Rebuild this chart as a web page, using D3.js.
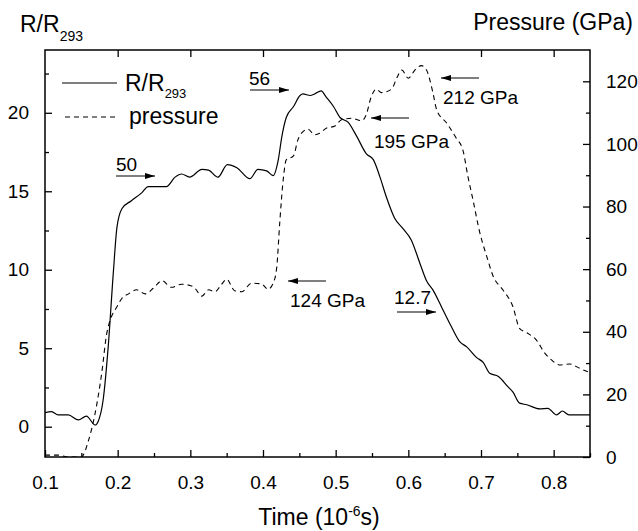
<!DOCTYPE html>
<html><head><meta charset="utf-8">
<script src="https://cdn.jsdelivr.net/npm/d3@7"></script>
<style>
html,body{margin:0;padding:0;background:#fff;}
text{font-family:"Liberation Sans",Arial,Helvetica,sans-serif;fill:#000;}
</style></head><body>
<svg id="chart" width="638" height="531"></svg>
<script>
// ---- data (time in 10^-6 s) ----
const rTime = [0.100,0.109,0.118,0.132,0.146,0.157,0.169,0.173,0.180,0.187,0.194,0.199,0.206,0.219,0.233,0.242,0.267,0.279,0.288,0.299,0.316,0.325,0.338,0.351,0.364,0.382,0.393,0.405,0.414,0.421,0.426,0.432,0.442,0.451,0.455,0.465,0.471,0.480,0.487,0.497,0.506,0.517,0.529,0.542,0.552,0.561,0.570,0.581,0.593,0.604,0.616,0.625,0.634,0.646,0.659,0.671,0.680,0.694,0.703,0.712,0.724,0.737,0.744,0.753,0.763,0.781,0.792,0.804,0.812,0.821,0.850];
const rValue = [0.89,0.96,0.75,0.75,0.43,0.68,0.11,0.32,1.7,5.1,9.8,12.7,13.9,14.4,14.9,15.3,15.3,15.9,16.1,15.9,16.4,16.35,15.9,16.7,16.5,15.8,16.4,16.3,16.0,17.0,18.5,19.7,20.4,21.1,21.2,21.1,21.2,21.4,21.0,20.4,19.7,19.4,18.5,17.4,17.0,15.9,14.6,13.3,12.6,11.9,10.4,9.3,8.7,7.6,6.4,5.4,5.1,4.4,4.1,3.4,3.2,2.55,2.2,1.5,1.4,1.13,1.17,0.75,1.0,0.75,0.75];
const pTime = [0.100,0.118,0.132,0.150,0.160,0.169,0.178,0.185,0.189,0.199,0.206,0.215,0.226,0.238,0.249,0.261,0.274,0.288,0.304,0.316,0.325,0.334,0.341,0.350,0.361,0.371,0.384,0.398,0.407,0.414,0.419,0.423,0.428,0.432,0.442,0.448,0.455,0.462,0.471,0.478,0.487,0.499,0.508,0.522,0.536,0.542,0.549,0.556,0.563,0.577,0.584,0.591,0.600,0.609,0.618,0.625,0.634,0.639,0.653,0.666,0.675,0.682,0.689,0.698,0.708,0.717,0.730,0.744,0.753,0.763,0.776,0.788,0.797,0.808,0.822,0.836,0.850];
const pValue = [0.6,0.6,0,0,5.4,14,26.7,39.5,43.2,48,50.7,52.1,53.4,52.1,53.9,56.3,54.2,55.2,54.4,51.4,53.4,52.8,54.5,56.8,53.1,52.8,55.5,55.3,53.6,55.5,60.8,74.7,89,94.9,96.2,101.3,103.9,104.7,102.9,103.4,105,105.7,107.7,108.2,107.4,109.3,115.1,117.5,116.4,117.5,121,123.6,121,123.6,125,123.6,116.2,110.9,106.6,101.8,98.1,89.6,82.1,72,64,57.6,53.4,48,41.1,39.7,37.4,33.1,31,29.4,29.7,28.3,26.9];

const xTicks = [0.1,0.2,0.3,0.4,0.5,0.6,0.7,0.8];
const xMinor = [0.15,0.25,0.35,0.45,0.55,0.65,0.75,0.85];
const yLeftTicks = [0,5,10,15,20];
const yLeftMinor = [2.5,7.5,12.5,17.5,22.5];
const yRightTicks = [0,20,40,60,80,100,120];
const yRightMinor = [10,30,50,70,90,110];

// annotations: [text, textX, textY, arrowFromX, arrowToX, arrowY]
const annotations = [
  ["50", 116, 171, 116, 155, 176],
  ["56", 249, 85, 250, 289, 90],
  ["195 GPa", 374, 148, 409, 371, 118],
  ["212 GPa", 443, 104, 479, 441, 78],
  ["124 GPa", 290, 307, 326, 288, 281],
  ["12.7", 394, 304, 397, 436, 312]
];

const svg = d3.select("#chart");
const L = 45, R = 590, T = 50, B = 457;
const x = d3.scaleLinear().domain([0.1, 0.85]).range([L, R]);
const yL = d3.scaleLinear().domain([-1.93, 24]).range([B, T]);
const yR = d3.scaleLinear().domain([0, 130]).range([B, T]);

svg.append("defs").append("clipPath").attr("id","clip")
  .append("rect").attr("x",L).attr("y",T).attr("width",R-L).attr("height",B-T);
svg.select("defs").append("marker").attr("id","arr")
  .attr("viewBox","0 0 10 6").attr("refX",10).attr("refY",3)
  .attr("markerWidth",10).attr("markerHeight",6).attr("markerUnits","userSpaceOnUse")
  .attr("orient","auto")
  .append("path").attr("d","M0,0L10,3L0,6Z").attr("fill","#000");

const tickFont = "19px";

function styleAxis(g){
  g.select(".domain").remove();
  g.selectAll("line").attr("stroke","#000").attr("stroke-width",1.3);
  g.selectAll("text").style("font-size",tickFont);
}
svg.append("g").attr("transform",`translate(0,${B})`)
  .call(d3.axisBottom(x).tickValues(xTicks).tickSize(-7).tickPadding(19).tickFormat(d3.format(".1f")))
  .call(styleAxis);
svg.append("g").attr("transform",`translate(0,${B})`)
  .call(d3.axisBottom(x).tickValues(xMinor).tickSize(-4).tickFormat(""))
  .call(styleAxis);
svg.append("g").attr("transform",`translate(0,${T})`)
  .call(d3.axisTop(x).tickValues(xTicks.slice(1)).tickSize(-7).tickFormat(""))
  .call(styleAxis);
svg.append("g").attr("transform",`translate(${L},0)`)
  .call(d3.axisLeft(yL).tickValues(yLeftTicks).tickSize(-7).tickPadding(16).tickFormat(d3.format("d")))
  .call(styleAxis);
svg.append("g").attr("transform",`translate(${L},0)`)
  .call(d3.axisLeft(yL).tickValues(yLeftMinor).tickSize(-4).tickFormat(""))
  .call(styleAxis);
svg.append("g").attr("transform",`translate(${R},0)`)
  .call(d3.axisRight(yR).tickValues(yRightTicks).tickSize(-7).tickPadding(16).tickFormat(d3.format("d")))
  .call(styleAxis);
svg.append("g").attr("transform",`translate(${R},0)`)
  .call(d3.axisRight(yR).tickValues(yRightMinor).tickSize(-4).tickFormat(""))
  .call(styleAxis);

svg.append("rect").attr("x",L).attr("y",T).attr("width",R-L).attr("height",B-T)
  .attr("fill","none").attr("stroke","#000").attr("stroke-width",1.5);

const rData = rTime.map((t,i)=>[t,rValue[i]]);
const pData = pTime.map((t,i)=>[t,pValue[i]]);
const g = svg.append("g").attr("clip-path","url(#clip)");
g.append("path").datum(rData)
  .attr("d", d3.line().x(d=>x(d[0])).y(d=>yL(d[1])).curve(d3.curveMonotoneX))
  .attr("fill","none").attr("stroke","#000").attr("stroke-width",1.2);
g.append("path").datum(pData)
  .attr("d", d3.line().x(d=>x(d[0])).y(d=>yR(d[1])).curve(d3.curveMonotoneX))
  .attr("fill","none").attr("stroke","#000").attr("stroke-width",1.1).attr("stroke-dasharray","5,4");

const t1 = svg.append("text").attr("x",20).attr("y",32).style("font-size","23px");
t1.append("tspan").text("R/R");
t1.append("tspan").attr("dy",9).style("font-size","14px").text("293");
svg.append("text").attr("x",633).attr("y",30).attr("text-anchor","end").style("font-size","23px").text("Pressure (GPa)");
const t3 = svg.append("text").attr("x",319).attr("y",525).attr("text-anchor","middle").style("font-size","23px");
t3.append("tspan").text("Time (10");
t3.append("tspan").attr("dy",-9).style("font-size","14px").text("-6");
t3.append("tspan").attr("dy",9).text("s)");

svg.append("line").attr("x1",62).attr("x2",117).attr("y1",83).attr("y2",83).attr("stroke","#000").attr("stroke-width",1.2);
const lg1 = svg.append("text").attr("x",125).attr("y",91).style("font-size","23px");
lg1.append("tspan").text("R/R");
lg1.append("tspan").attr("dy",7).style("font-size","13px").text("293");
svg.append("line").attr("x1",65).attr("x2",119).attr("y1",117).attr("y2",117).attr("stroke","#000").attr("stroke-width",1.1).attr("stroke-dasharray","5,4");
svg.append("text").attr("x",129).attr("y",124).style("font-size","23px").text("pressure");

annotations.forEach(a=>{
  svg.append("text").attr("x",a[1]).attr("y",a[2]).style("font-size","19px").text(a[0]);
  svg.append("line").attr("x1",a[3]).attr("x2",a[4]).attr("y1",a[5]).attr("y2",a[5])
    .attr("stroke","#000").attr("stroke-width",1.2).attr("marker-end","url(#arr)");
});
</script>
</body></html>
